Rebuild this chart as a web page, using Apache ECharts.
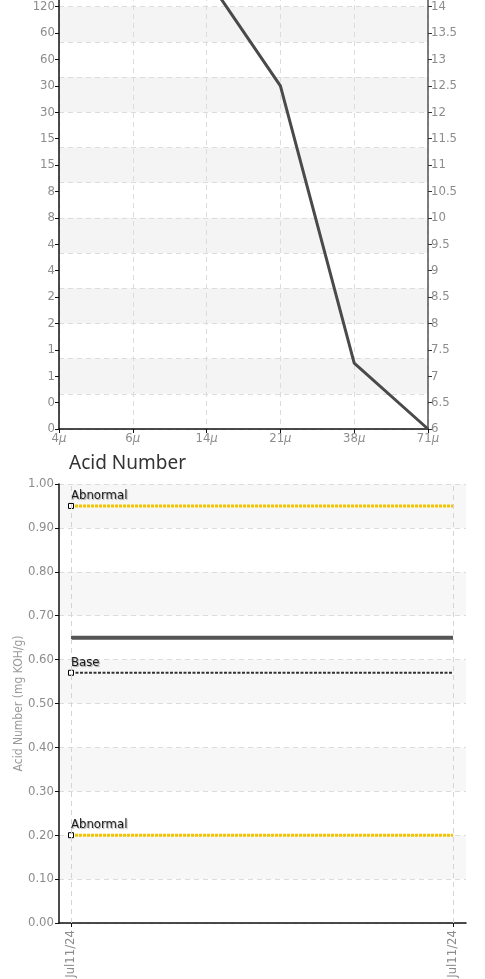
<!DOCTYPE html>
<html>
<head>
<meta charset="utf-8">
<script src="https://cdn.jsdelivr.net/npm/echarts@6/dist/echarts.min.js"></script>
<style>
html,body{margin:0;padding:0;background:#fff;overflow:hidden;}
#wrap{position:relative;width:485px;height:979px;overflow:hidden;}
#chart{position:absolute;left:0;top:-310px;width:485px;height:1289px;}
</style>
</head>
<body>
<div id="wrap"><div id="chart"></div></div>
<script>
// ---- Particle count (ISO code) chart data ----
const sizeCategories = ['4μ', '6μ', '14μ', '21μ', '38μ', '71μ'];
const isoCodeValues = [19, 17, 14.55, 12.5, 7.25, 6];
// left-axis labels: particle counts for ISO codes 6 .. 20 in 0.5 steps
const countTickLabels = ['0','0','1','1','2','2','4','4','8','8','15','15','30','30','60','60','120','120','240','240','480','480','970','970','1900','1900','3750','3750','7500'];

// ---- Acid Number chart data ----
const sampleDates = ['Jul11/24', 'Jul11/24'];
const acidNumber = [0.65, 0.65];
const abnormalHigh = [0.95, 0.95];
const baseValue = [0.57, 0.57];
const abnormalLow = [0.20, 0.20];

const NARROW = "'Liberation Sans Narrow', 'DejaVu Sans Condensed', Roboto, sans-serif";
const LABEL_GRAY = '#8c8c8c';
const SPLIT_DASH = { type: [5, 4], color: '#dcdcdc', width: 1 };

function pts(arr) { return arr.map((v, i) => [i, v]); }

function limitSeries(name, arr, color, width, dash) {
  return {
    name: name,
    type: 'line',
    xAxisIndex: 1, yAxisIndex: 3,
    data: arr.map((v, i) => i === 0 ? {
      value: [i, v], symbol: 'rect', symbolSize: 5,
      itemStyle: { color: '#fff', borderColor: '#000', borderWidth: 1 },
      label: {
        show: true, formatter: name, position: 'top', align: 'left', distance: 1,
        color: '#1a1a1a', fontFamily: NARROW, fontSize: 13,
        textShadowColor: 'rgba(0,0,0,0.35)', textShadowBlur: 1,
        textShadowOffsetX: 1, textShadowOffsetY: 1
      }
    } : { value: [i, v], symbol: 'none' }),
    lineStyle: { color: color, width: width, type: dash },
    showSymbol: true,
    silent: true,
    z: 3
  };
}

const chart = echarts.init(document.getElementById('chart'), null, { renderer: 'canvas' });
chart.setOption({
  animation: false,
  title: {
    text: 'Acid Number', left: 64, top: 759,
    textStyle: { fontFamily: "'Noto Sans', sans-serif", fontSize: 19, fontWeight: 'normal', color: '#333' }
  },
  grid: [
    { left: 59, right: 57, top: 0, bottom: 550, containLabel: false, outerBoundsMode: 'none' },
    { left: 59, right: 19, top: 794, bottom: 56, containLabel: false, outerBoundsMode: 'none' }
  ],
  xAxis: [
    {
      type: 'category', gridIndex: 0, boundaryGap: false, data: sizeCategories,
      axisLine: { lineStyle: { color: '#111', width: 1.5 } },
      axisTick: { show: true, length: 4, lineStyle: { color: '#111' } },
      axisLabel: {
        margin: 3,
        formatter: v => '{n|' + v.slice(0, -1) + '}{u|μ}',
        rich: {
          n: { color: LABEL_GRAY, fontFamily: NARROW, fontSize: 13 },
          u: { color: LABEL_GRAY, fontFamily: NARROW, fontSize: 13, fontStyle: 'italic' }
        }
      },
      splitLine: { show: true, lineStyle: SPLIT_DASH }
    },
    {
      type: 'value', gridIndex: 1, min: -0.0314, max: 1.034,
      axisLine: { onZero: false, lineStyle: { color: '#111', width: 1.5 } },
      axisTick: { show: true, length: 4, customValues: [0, 1], lineStyle: { color: '#111' } },
      axisLabel: {
        customValues: [0, 1], rotate: 90, margin: 7,
        formatter: v => sampleDates[Math.round(v)],
        color: LABEL_GRAY, fontFamily: NARROW, fontSize: 13
      },
      splitLine: { show: false }
    }
  ],
  yAxis: [
    {
      type: 'value', gridIndex: 0, position: 'left', min: 6, max: 20, interval: 0.5,
      axisLine: { show: true, onZero: false, lineStyle: { color: '#111', width: 1.5 } },
      axisTick: { show: true, length: 4, lineStyle: { color: '#111' } },
      axisLabel: {
        margin: 4, color: LABEL_GRAY, fontFamily: NARROW, fontSize: 13,
        formatter: v => countTickLabels[Math.round((v - 6) * 2)]
      },
      splitLine: { show: false }
    },
    {
      type: 'value', gridIndex: 0, position: 'right', min: 6, max: 20, interval: 0.5,
      axisLine: { show: true, onZero: false, lineStyle: { color: '#555', width: 1.5 } },
      axisTick: { show: true, length: 4, lineStyle: { color: '#333' } },
      axisLabel: {
        margin: 3, color: LABEL_GRAY, fontFamily: NARROW, fontSize: 13,
        formatter: v => String(v)
      },
      splitLine: { show: false }
    },
    {
      // background bands for the particle chart (every 2/3 ISO unit, scaled x1.5)
      type: 'value', gridIndex: 0, position: 'left', min: 9, max: 30, interval: 1,
      axisLine: { show: false }, axisTick: { show: false }, axisLabel: { show: false },
      splitLine: { show: true, lineStyle: SPLIT_DASH },
      splitArea: { show: true, areaStyle: { color: ['rgba(255,255,255,0)', '#f4f4f4'] } }
    },
    {
      type: 'value', gridIndex: 1, min: 0, max: 1, interval: 0.1,
      name: 'Acid Number (mg KOH/g)', nameLocation: 'middle', nameGap: 34,
      nameMoveOverlap: false,
      nameTextStyle: { color: '#9a9a9a', fontFamily: NARROW, fontSize: 12 },
      axisLine: { show: true, onZero: false, lineStyle: { color: '#111', width: 1.5 } },
      axisTick: { show: true, length: 4, lineStyle: { color: '#111' } },
      axisLabel: {
        margin: 5, color: LABEL_GRAY, fontFamily: NARROW, fontSize: 13,
        formatter: v => v.toFixed(2)
      },
      splitLine: { show: true, lineStyle: SPLIT_DASH },
      splitArea: { show: true, areaStyle: { color: ['rgba(255,255,255,0)', '#f7f7f7'] } }
    }
  ],
  series: [
    {
      name: 'ISO Code', type: 'line', xAxisIndex: 0, yAxisIndex: 0,
      data: isoCodeValues, symbol: 'none',
      lineStyle: { color: '#4a4a4a', width: 3 }, z: 3
    },
    {
      name: 'Acid Number', type: 'line', xAxisIndex: 1, yAxisIndex: 3,
      data: pts(acidNumber), symbol: 'none',
      lineStyle: { color: '#555', width: 4 }, z: 4,
      markLine: {
        silent: true, symbol: 'none', label: { show: false },
        lineStyle: { type: [5, 4], color: '#d4d4d4', width: 1 },
        data: sampleDates.map((d, i) => ({ xAxis: i }))
      }
    },
    limitSeries('Abnormal', abnormalHigh, '#f5c400', 3, [3, 1]),
    limitSeries('Base', baseValue, '#333', 2, [3, 1.5]),
    limitSeries('Abnormal', abnormalLow, '#f5c400', 3, [3, 1])
  ]
});
</script>
</body>
</html>
